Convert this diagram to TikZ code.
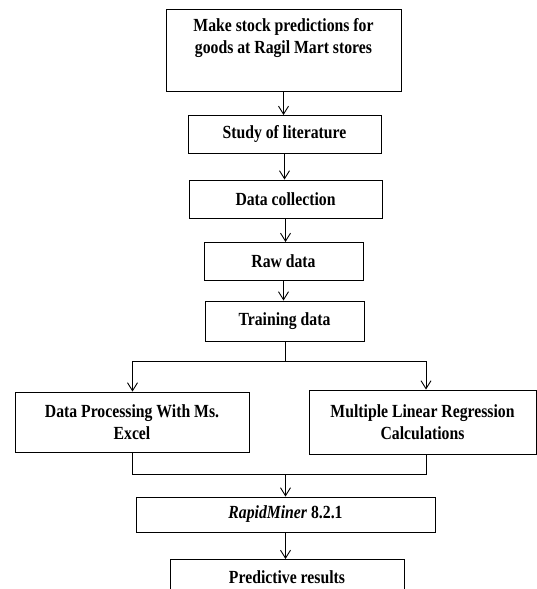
\documentclass[tikz,border=0pt]{standalone}
\usepackage{fontspec}
\setmainfont{Liberation Serif}[FakeStretch=0.85]
\usetikzlibrary{arrows.meta}
\tikzset{
  box/.style={draw, line width=0.9pt, inner sep=0pt, align=center,
    font=\fontsize{18.5}{22}\selectfont\bfseries},
  label/.style={inner sep=0pt, align=center, font=\fontsize{18.5}{22}\selectfont\bfseries},
  link/.style={line width=0.9pt},
  flow/.style={line width=0.9pt, -{Straight Barb[length=8pt,width=10pt,line width=0.9pt]}}
}
\begin{document}
\begin{tikzpicture}[x=1pt,y=-1pt]
\clip (0,0) rectangle (537,589);
\fill[white] (0,0) rectangle (537,589);
% boxes
\node[box, minimum width=235pt, minimum height=82pt] (top) at (283.5,50) {};
\node[label, anchor=north] (toptext) at (283.5,18) {Make stock predictions for\\goods at Ragil Mart stores};
\node[box, minimum width=193pt, minimum height=38pt] (study) at (284.5,134) {Study of literature};
\node[box, minimum width=193pt, minimum height=38pt] (collect) at (285.5,199) {Data collection};
\node[box, minimum width=159pt, minimum height=38pt] (raw) at (283.5,261) {Raw data};
\node[box, minimum width=159pt, minimum height=40pt] (train) at (284.5,321) {Training data};
\node[box, minimum width=234pt, minimum height=60pt] (excel) at (132,422) {Data Processing With Ms.\\Excel};
\node[box, minimum width=227pt, minimum height=64pt] (mlr) at (422.5,422) {Multiple Linear Regression\\Calculations};
\node[box, minimum width=299pt, minimum height=35pt] (rapid) at (285.5,514.5) {\textit{RapidMiner} 8.2.1};
\node[box, minimum width=234pt, minimum height=64pt, anchor=north] (pred) at (287,559) {};
\node[label] (predtext) at (287,577) {Predictive results};
% connectors
\draw[flow] (283.5,91) -- (283.5,115);
\draw[flow] (study.south) -- (study.south |- collect.north);
\draw[flow] (285.5,218) -- (285.5,242);
\draw[flow] (raw.south) -- (raw.south |- train.north);
\coordinate (split) at (285.5,361);
\coordinate (splitL) at (132.5,361);
\coordinate (splitR) at (426,361);
\draw[link] (train.south -| split) -- (split);
\draw[link] (splitL) -- (splitR);
\draw[flow] (splitL) -- (splitL |- excel.north);
\draw[flow] (splitR) -- (splitR |- mlr.north);
\coordinate (joinL) at (132.5,474);
\coordinate (joinR) at (426,474);
\coordinate (join) at (285.5,474);
\draw[link] (joinL |- excel.south) -- (joinL) -- (joinR) -- (joinR |- mlr.south);
\draw[flow] (join) -- (rapid.north);
\draw[flow] (rapid.south) -- (rapid.south |- pred.north);
\end{tikzpicture}
\end{document}
